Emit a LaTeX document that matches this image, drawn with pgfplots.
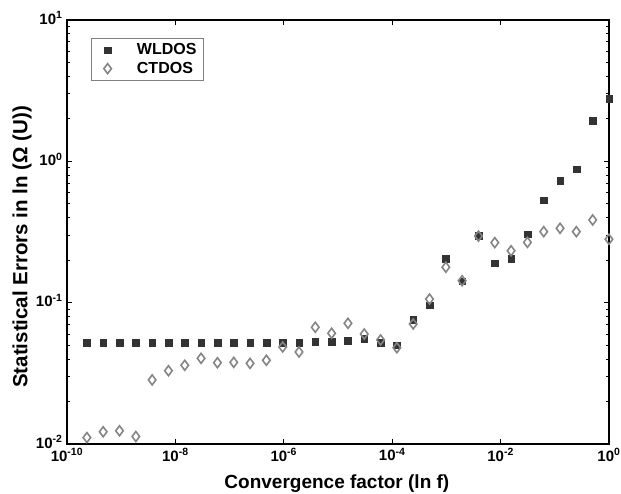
\documentclass[border=0pt]{standalone}
\usepackage{fontspec}
\setmainfont{Liberation Sans}
\usepackage{pgfplots}
\usepackage{pgfplotstable}
\pgfplotsset{compat=1.18}
\definecolor{wl}{HTML}{333333}
\definecolor{ct}{HTML}{858585}
\newcommand{\tl}[1]{{\fontsize{15}{17}\selectfont\bfseries 10\textsuperscript{#1}}}
\pgfplotstableread{
x y
1 2.77
0.5 1.94
0.25 0.883
0.125 0.727
0.0625 0.531
0.03125 0.305
0.015625 0.204
0.0078125 0.191
0.00390625 0.298
0.001953125 0.142
9.765625e-4 0.204
4.8828125e-4 0.096
2.44140625e-4 0.076
1.220703125e-4 0.050
6.103515625e-5 0.052
3.0517578125e-5 0.0556
1.52587890625e-5 0.054
7.62939453125e-6 0.053
3.814697265625e-6 0.053
1.9073486328125e-6 0.052
9.5367431640625e-7 0.052
4.76837158203125e-7 0.052
2.384185791015625e-7 0.052
1.1920928955078125e-7 0.052
5.960464477539063e-8 0.052
2.9802322387695312e-8 0.052
1.4901161193847656e-8 0.052
7.450580596923828e-9 0.052
3.725290298461914e-9 0.052
1.862645149230957e-9 0.052
9.313225746154785e-10 0.052
4.656612873077393e-10 0.052
2.3283064365386963e-10 0.052
}\wldos
\pgfplotstableread{
x y
1 0.281
0.5 0.385
0.25 0.318
0.125 0.336
0.0625 0.318
0.03125 0.267
0.015625 0.233
0.0078125 0.266
0.00390625 0.296
0.001953125 0.143
9.765625e-4 0.178
4.8828125e-4 0.106
2.44140625e-4 0.0707
1.220703125e-4 0.048
6.103515625e-5 0.0545
3.0517578125e-5 0.060
1.52587890625e-5 0.0715
7.62939453125e-6 0.0607
3.814697265625e-6 0.0670
1.9073486328125e-6 0.0448
9.5367431640625e-7 0.0486
4.76837158203125e-7 0.0391
2.384185791015625e-7 0.0372
1.1920928955078125e-7 0.0378
5.960464477539063e-8 0.0376
2.9802322387695312e-8 0.0404
1.4901161193847656e-8 0.0361
7.450580596923828e-9 0.0330
3.725290298461914e-9 0.0284
1.862645149230957e-9 0.0113
9.313225746154785e-10 0.0124
4.656612873077393e-10 0.0122
2.3283064365386963e-10 0.0111
}\ctdos
\begin{document}
\begin{tikzpicture}
\begin{axis}[
  scale only axis, width=542pt, height=424pt,
  xmode=log, ymode=log,
  xmin=1e-10, xmax=1, ymin=1e-2, ymax=10,
  xtick={1e-10,1e-8,1e-6,1e-4,1e-2,1},
  xticklabels={{\tl{-10}},{\tl{-8}},{\tl{-6}},{\tl{-4}},{\tl{-2}},{\tl{0}}},
  ytick={1e-2,1e-1,1,10},
  yticklabels={{\tl{-2}},{\tl{-1}},{\tl{0}},{\tl{1}}},
  xminorticks=false,
  xticklabel style={yshift=-1pt},
  yticklabel style={xshift=-1pt, yshift=2pt},
  xlabel={Convergence factor (ln f)},
  ylabel={Statistical Errors in ln (Ω (U))},
  label style={font=\fontsize{19}{22}\selectfont\bfseries},
  xlabel style={at={(axis description cs:0.498,-0.094)}, anchor=center},
  ylabel style={at={(axis description cs:-0.083,0.465)}, anchor=center, rotate=0, font=\fontsize{20.5}{23}\selectfont\bfseries},
  axis line style={line width=1.2pt},
  major tick length=5pt, minor tick length=3pt,
  every tick/.style={black, line width=0.8pt},
  clip=false,
  legend style={at={(axis description cs:0.044,0.957)}, anchor=north west,
    draw=gray, line width=0.8pt, font=\fontsize{16}{18}\selectfont\bfseries,
    inner xsep=5pt, inner ysep=3pt, row sep=2pt},
  legend cell align=left,
  legend image code/.code={\path[draw=none] (0cm,0cm) -- (1.36cm,0cm); \draw[#1] plot coordinates {(0.4cm,0cm)};},
]
\addplot[only marks, mark=square*, mark size=3.3pt, color=wl, mark options={fill=wl, draw=wl, line width=0.3pt}] table[x=x,y=y] {\wldos};
\addlegendentry{WLDOS\hspace{5pt}}
\addplot[only marks, mark=diamond, mark size=5pt, color=ct, mark options={draw=ct, line width=1.6pt}] table[x=x,y=y] {\ctdos};
\addlegendentry{CTDOS\hspace{5pt}}
\end{axis}
\pgfresetboundingbox
\useasboundingbox ([shift={(-67pt,-50pt)}]current axis.south west) rectangle ([shift={(12pt,20pt)}]current axis.north east);
\end{tikzpicture}
\end{document}
